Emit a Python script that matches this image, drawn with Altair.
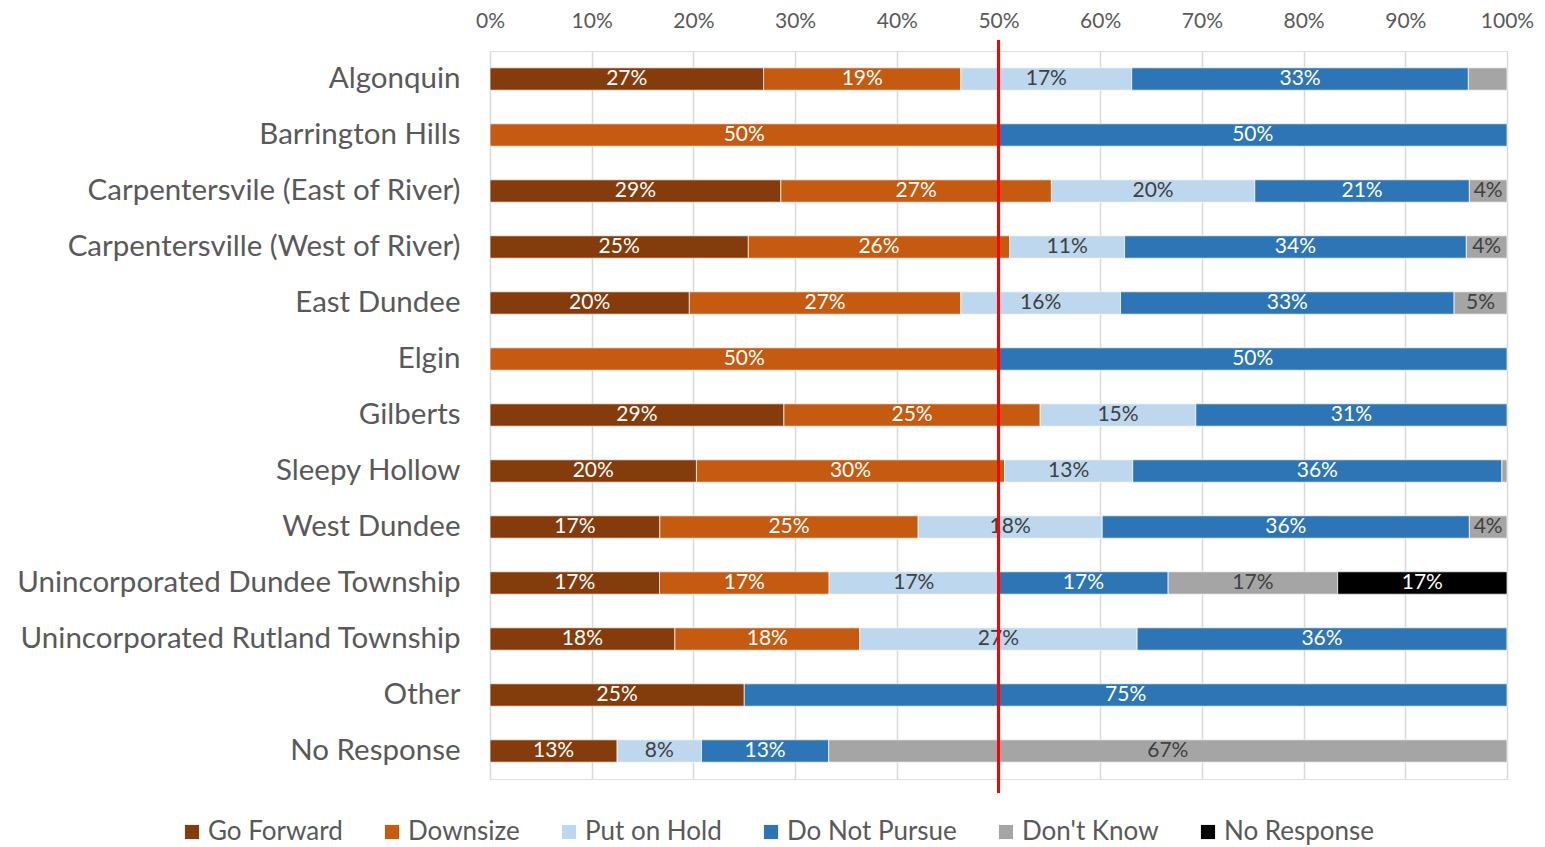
import math
import altair as alt
import pandas as pd

categories = [
    "Algonquin", "Barrington Hills", "Carpentersvile (East of River)",
    "Carpentersville (West of River)", "East Dundee", "Elgin", "Gilberts",
    "Sleepy Hollow", "West Dundee", "Unincorporated Dundee Township",
    "Unincorporated Rutland Township", "Other", "No Response",
]
series = ["Go Forward", "Downsize", "Put on Hold", "Do Not Pursue", "Don't Know", "No Response"]
colors = ["#843C0C", "#C55A11", "#BDD7EE", "#2E75B6", "#A5A5A5", "#000000"]
text_colors = ["white", "white", "#404040", "white", "#404040", "white"]

go_forward    = [26.9, 0, 28.6, 25.4, 19.6, 0, 28.9, 20.3, 16.7, 16.67, 18.18, 25.0, 12.5]
downsize      = [19.4, 50, 26.6, 25.7, 26.7, 50, 25.2, 30.3, 25.4, 16.67, 18.18, 0, 0]
put_on_hold   = [16.8, 0, 20.0, 11.3, 15.7, 0, 15.3, 12.6, 18.1, 16.67, 27.27, 0, 8.3]
do_not_pursue = [33.1, 50, 21.1, 33.6, 32.8, 50, 30.6, 36.3, 36.1, 16.67, 36.36, 75.0, 12.5]
dont_know     = [3.8, 0, 3.7, 4.0, 5.2, 0, 0, 0.5, 3.7, 16.67, 0, 0, 66.7]
no_response   = [0, 0, 0, 0, 0, 0, 0, 0, 0, 16.65, 0, 0, 0]
hidden_labels = [("Algonquin", "Don't Know"), ("Sleepy Hollow", "Don't Know")]

rows = []
for si, (s, vals) in enumerate(zip(series, [go_forward, downsize, put_on_hold, do_not_pursue, dont_know, no_response])):
    for c, v in zip(categories, vals):
        if v > 0:
            rows.append({
                "category": c, "series": s, "value": v, "order": si,
                "tc": text_colors[si],
                "label": "" if (c, s) in hidden_labels else f"{math.floor(v + 0.5)}%",
            })
df = pd.DataFrame(rows)

FONT = "Lato"
GRID = "#D9D9D9"
LABEL = "#595959"

yenc = alt.Y("category:N", sort=categories,
             scale=alt.Scale(paddingInner=0.6, paddingOuter=0.3),
             axis=alt.Axis(title=None, labelFontSize=29.5, labelColor=LABEL, labelPadding=30,
                           ticks=False, domain=False, labelLimit=600, labelFont=FONT))
xscale = alt.Scale(domain=[0, 100], nice=False)

bars = alt.Chart(df).mark_bar(stroke="white", strokeWidth=0.7).encode(
    x=alt.X("value:Q", stack="zero", scale=xscale,
            axis=alt.Axis(orient="top", values=list(range(0, 101, 10)),
                          labelExpr="datum.value + '%'", title=None, grid=True,
                          gridColor=GRID, gridWidth=1.5, domain=False, ticks=False,
                          labelFlush=False,
                          labelFontSize=21, labelColor=LABEL, labelPadding=20, labelFont=FONT)),
    y=yenc,
    color=alt.Color("series:N", sort=series,
                    scale=alt.Scale(domain=series, range=colors),
                    legend=alt.Legend(title=None, orient="none", legendX=-311, legendY=768,
                                      direction="horizontal", columns=6, symbolType="square",
                                      symbolSize=200, symbolStrokeWidth=0, labelFontSize=26,
                                      labelColor=LABEL, columnPadding=36, labelOffset=3,
                                      labelFont=FONT, padding=0, labelLimit=400)),
    order=alt.Order("order:Q"),
)

texts = alt.Chart(df).transform_stack(
    stack="value", groupby=["category"], sort=[alt.SortField("order")], as_=["x0", "x1"]
).transform_calculate(mid="(datum.x0 + datum.x1) / 2").mark_text(
    fontSize=21, font=FONT, baseline="middle", align="center"
).encode(
    x=alt.X("mid:Q", scale=xscale),
    y=alt.Y("category:N", sort=categories),
    text="label:N",
    color=alt.Color("tc:N", scale=None),
)

redline = alt.Chart(df).mark_rule(color="#FF0000", strokeWidth=2).encode(
    x=alt.datum(50), y=alt.value(-11), y2=alt.value(742)
)

chart = alt.layer(bars, texts, redline).properties(
    width=1017, height=728,
    autosize=alt.AutoSizeParams(type="none"),
    padding={"left": 482, "top": 43, "right": 30, "bottom": 68},
).configure_view(stroke=None).configure(font=FONT)

chart.save("out.html", embed_options={"renderer": "svg", "actions": False})
